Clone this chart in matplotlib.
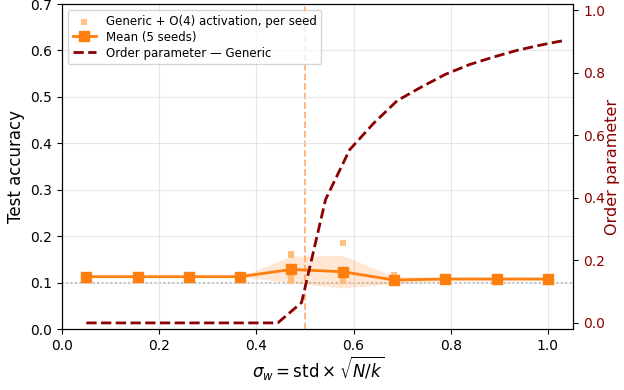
import matplotlib
matplotlib.use("Agg")
import matplotlib.pyplot as plt
import numpy as np


# sweep of sigma_w (5 seeds each)
sigma_w = [0.05, 0.1556, 0.2611, 0.3667, 0.4722, 0.5778, 0.6833, 0.7889, 0.8944, 1.0]
seed_acc = [
  [0.113, 0.113, 0.113, 0.113, 0.113],
  [0.113, 0.113, 0.113, 0.113, 0.113],
  [0.113, 0.113, 0.113, 0.113, 0.113],
  [0.113, 0.113, 0.113, 0.113, 0.113],
  [0.161, 0.159, 0.104, 0.110, 0.109],
  [0.186, 0.115, 0.108, 0.105, 0.104],
  [0.116, 0.112, 0.102, 0.100, 0.099],
  [0.113, 0.110, 0.107, 0.106, 0.104],
  [0.112, 0.111, 0.108, 0.105, 0.104],
  [0.113, 0.109, 0.108, 0.106, 0.104],
]

# order parameter curve (generic)
op_sigma = [0.05, 0.099, 0.149, 0.198, 0.247, 0.296, 0.346, 0.395, 0.444, 0.493,
            0.5425, 0.592, 0.641, 0.690, 0.739, 0.789, 0.838, 0.887, 0.937, 0.986, 1.035]
op_value = [0.0, 0.0, 0.0, 0.0, 0.0, 0.0, 0.0, 0.0, 0.0, 0.065,
            0.395, 0.554, 0.638, 0.711, 0.754, 0.795, 0.826, 0.850, 0.872, 0.889, 0.904]

sigma_c = 0.5
chance = 0.1

orange = '#ff7f0e'
dark_red = '#8b0000'

fig = plt.figure(figsize=(6.24, 3.9), dpi=100)
ax1 = fig.add_axes([0.0994, 0.156, 0.8195, 0.8337])

acc = np.array(seed_acc)
means = acc.mean(axis=1)
stds = acc.std(axis=1, ddof=1)

xs = np.repeat(sigma_w, acc.shape[1])
ax1.scatter(xs, acc.ravel(), marker='s', s=22, color='#ffbb78', alpha=0.9, linewidths=0,
            label='Generic + O(4) activation, per seed', zorder=3)
ax1.fill_between(sigma_w, means - stds, means + stds, color=orange, alpha=0.18, linewidth=0, zorder=1)
ax1.plot(sigma_w, means, color=orange, marker='s', markersize=7, linewidth=2,
         label='Mean (5 seeds)', zorder=4)
ax1.axhline(chance, color='gray', linestyle=':', linewidth=1.2, alpha=0.8, zorder=0)
ax1.axvline(sigma_c, color='#ffb27a', linestyle='--', linewidth=1.3, zorder=0)

ax1.set_xlim(0, 1.0525)
ax1.set_ylim(0, 0.7)
ax1.set_xlabel(r'$\sigma_w = \mathrm{std} \times \sqrt{N/k}$', fontsize=12, labelpad=1)
ax1.set_ylabel('Test accuracy', fontsize=12)
ax1.tick_params(labelsize=10)
ax1.grid(True, color='#dddddd', linewidth=0.8, alpha=0.7)
ax1.set_axisbelow(True)

ax2 = ax1.twinx()
ax2.plot(op_sigma, op_value, color=dark_red, linestyle='--', linewidth=2,
         label='Order parameter \u2014 Generic')
ax2.set_ylim(-0.02, 1.02)
ax2.set_ylabel('Order parameter', color=dark_red, fontsize=11.5, labelpad=0)
ax2.tick_params(axis='y', labelcolor=dark_red, labelsize=10)

h1, l1 = ax1.get_legend_handles_labels()
h2, l2 = ax2.get_legend_handles_labels()
ax1.legend(h1 + h2, l1 + l2, loc='upper left', fontsize=8.5, labelspacing=0.25)

fig.savefig('out.png', dpi=100)
